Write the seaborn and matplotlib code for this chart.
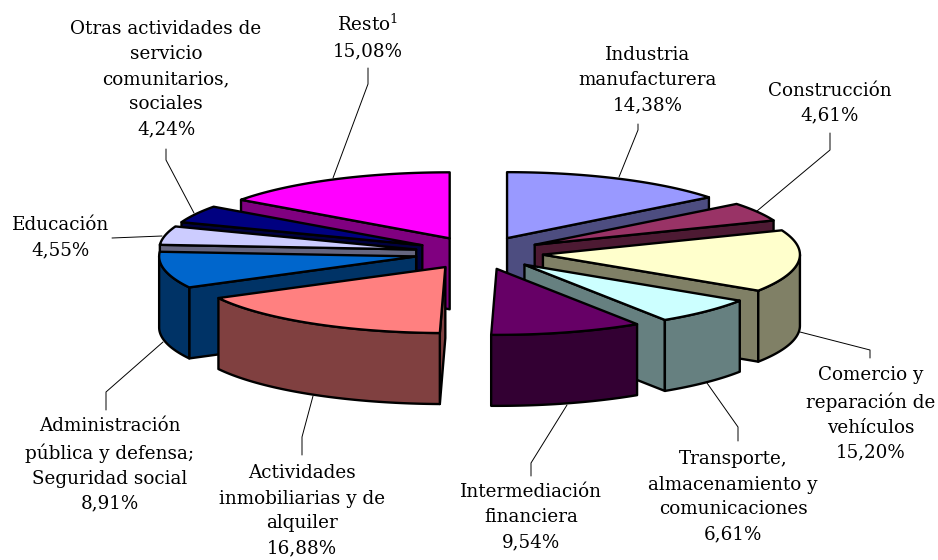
import numpy as np
import pandas as pd
import seaborn as sns
import matplotlib.pyplot as plt

sns.set_theme(style="white")
plt.rcParams['font.family'] = ['DejaVu Serif']
plt.rcParams['mathtext.fontset'] = 'dejavuserif'

# values, clockwise from 12 o'clock
sectors = ["Industria\nmanufacturera", "Construcción", "Comercio y\nreparación de\nvehículos",
           "Transporte,\nalmacenamiento y\ncomunicaciones", "Intermediación\nfinanciera",
           "Actividades\ninmobiliarias y de\nalquiler", "Administración\npública y defensa;\nSeguridad social",
           "Educación", "Otras actividades de\nservicio\ncomunitarios,\nsociales", "Resto$^{1}$"]
shares = [14.38, 4.61, 15.20, 6.61, 9.54, 16.88, 8.91, 4.55, 4.24, 15.08]
top_colors = ["#9999FF", "#993366", "#FFFFCC", "#CCFFFF", "#660066",
              "#FF8080", "#0066CC", "#CCCCFF", "#000080", "#FF00FF"]

# label centre in pixels
label_pos = [(648, 80), (830, 103), (871, 414), (733, 497), (531, 517),
             (302, 511), (110, 465), (61, 238), (166, 79), (368, 37)]
# leader lines in pixels
leaders = [
    [(638, 124), (638, 130), (619, 177)],
    [(830, 133), (830, 150), (757, 211)],
    [(870, 358), (870, 350), (800, 332)],
    [(738, 441), (738, 427), (707, 383)],
    [(531, 476), (531, 463), (567, 405)],
    [(302, 455), (302, 437), (313, 396)],
    [(106, 410), (106, 392), (163, 342)],
    [(112, 238), (162, 236)],
    [(166, 149), (166, 160), (194, 213)],
    [(368, 68), (368, 84), (333, 178)],
]

df = pd.DataFrame({"sector": sectors, "share": shares})
df["end"] = df["share"].cumsum() / df["share"].sum() * 360
df["start"] = df["end"].shift(1, fill_value=0.0)
df["mid"] = (df["start"] + df["end"]) / 2
df["top"] = sns.color_palette(top_colors)
df["side"] = [tuple(np.array(c) * 0.5) for c in df["top"]]

# geometry of the tilted pie
cx, cy = 479, 253
rx, ry = 257, 66
depth = 71
explode = 0.25


def rim(ax0, ay0, a, b):
    t = np.radians(np.linspace(a, b, 80))
    return ax0 + rx * np.sin(t), ay0 - ry * np.cos(t)


df["ax"] = cx + explode * rx * np.sin(np.radians(df["mid"]))
df["ay"] = cy - explode * ry * np.cos(np.radians(df["mid"]))

fig = plt.figure(figsize=(9.38, 5.6), dpi=100, facecolor="white")
ax = fig.add_axes([0, 0, 1, 1])
ax.set_xlim(0, 938)
ax.set_ylim(560, 0)
ax.axis("off")

style = dict(edgecolor="black", linewidth=1.7, joinstyle="round")

# back to front
for _, s in df.sort_values("ay").iterrows():
    a0, a1 = s["start"], s["end"]
    for ang, visible in [(a0, a0 > 180), (a1, a1 < 180)]:
        if visible:
            ex = s["ax"] + rx * np.sin(np.radians(ang))
            ey = s["ay"] - ry * np.cos(np.radians(ang))
            ax.fill([s["ax"], ex, ex, s["ax"]],
                    [s["ay"], ey, ey + depth, s["ay"] + depth],
                    facecolor=s["side"], **style)
    lo, hi = max(a0, 90), min(a1, 270)
    if lo < hi:
        x, y = rim(s["ax"], s["ay"], lo, hi)
        ax.fill(np.r_[x, x[::-1]], np.r_[y, y[::-1] + depth],
                facecolor=s["side"], **style)
    x, y = rim(s["ax"], s["ay"], a0, a1)
    ax.fill(np.r_[s["ax"], x], np.r_[s["ay"], y], facecolor=s["top"], **style)

for line in leaders:
    xs, ys = zip(*line)
    ax.plot(xs, ys, color="black", lw=0.7)

for name, val, (tx, ty) in zip(sectors, shares, label_pos):
    pct = f"{val:.2f}%".replace(".", ",")
    ax.text(tx, ty, f"{name}\n{pct}", ha="center", va="center", fontsize=13.2,
            linespacing=1.5, color="black")

fig.savefig("out.png", dpi=100)
